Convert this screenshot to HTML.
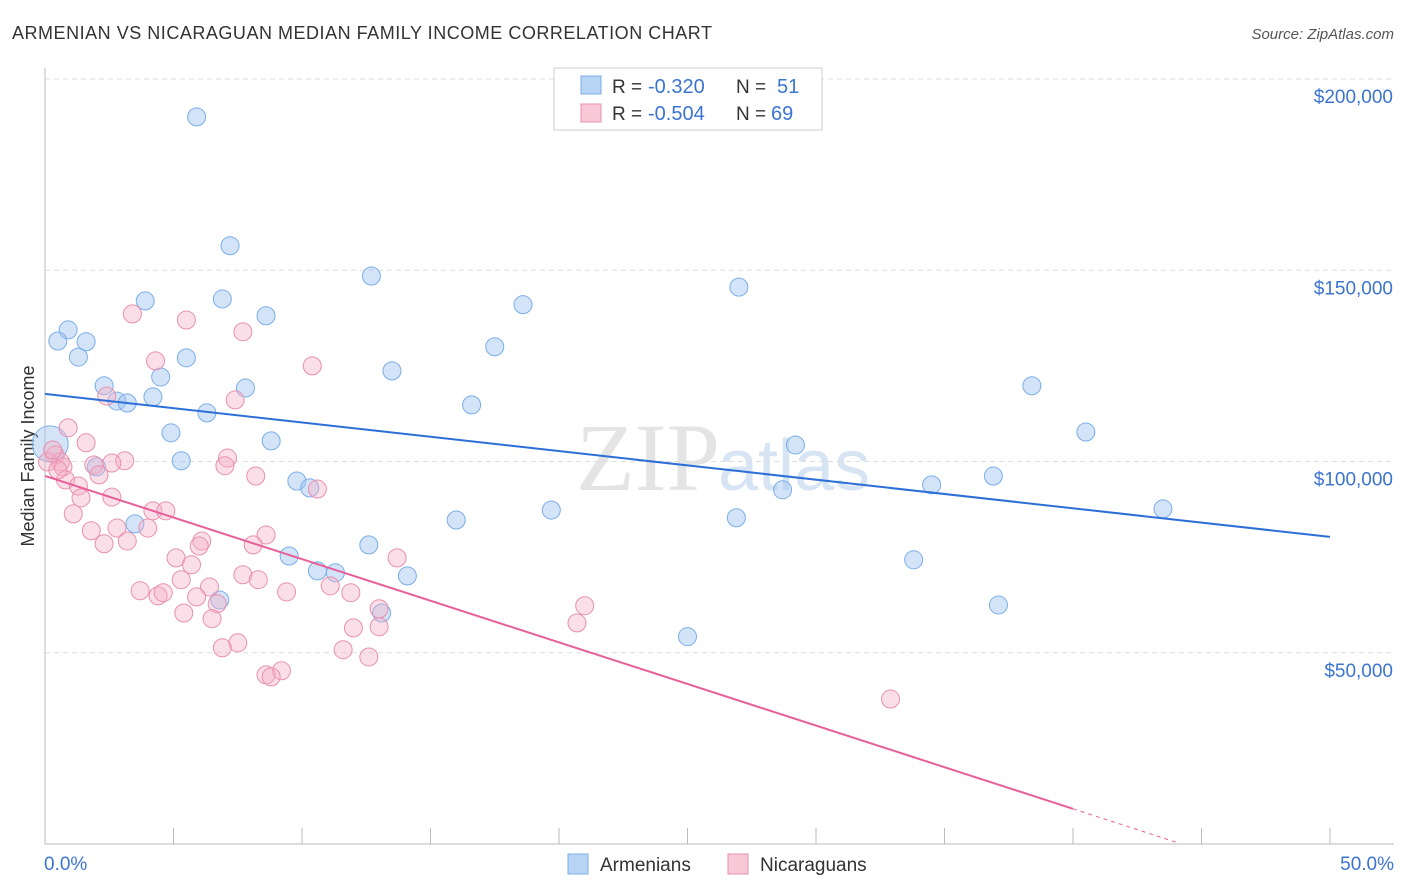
<!DOCTYPE html>
<html><head><meta charset="utf-8"><style>
body{margin:0;background:#fff;font-family:"Liberation Sans",sans-serif;}
svg{display:block}
</style></head><body>
<svg id="chart" width="1406" height="892">
<text x="12" y="39" font-size="18" fill="#333" textLength="700">ARMENIAN VS NICARAGUAN MEDIAN FAMILY INCOME CORRELATION CHART</text>
<text x="1394" y="39" font-size="15" fill="#555" font-style="italic" text-anchor="end">Source: ZipAtlas.com</text>
<text x="720" y="490" font-size="96" fill="#e4e4e4" text-anchor="end" font-family="Liberation Serif, serif">ZIP</text>
<text x="718" y="490" font-size="72" fill="#d6e4f4">atlas</text>
<text transform="translate(34,456) rotate(-90)" font-size="18" fill="#333" text-anchor="middle">Median Family Income</text>
<g id="grid"></g><g id="axes"></g><g id="pts"></g><g id="lines"></g>
<g>
<rect x="554" y="68" width="268" height="62" fill="#fff" stroke="#ccc"/>
<rect x="581" y="76" width="20" height="18" fill="#b8d4f4" stroke="#7aaee8"/>
<text x="612" y="93" font-size="19" fill="#333">R =</text>
<text x="648" y="93" font-size="20" fill="#3b74d1">-0.320</text>
<text x="736" y="93" font-size="19" fill="#333">N =</text>
<text x="777" y="93" font-size="20" fill="#3b74d1">51</text>
<rect x="581" y="104" width="20" height="18" fill="#f8c8d6" stroke="#e890b0"/>
<text x="612" y="120" font-size="19" fill="#333">R =</text>
<text x="648" y="120" font-size="20" fill="#3b74d1">-0.504</text>
<text x="736" y="120" font-size="19" fill="#333">N =</text>
<text x="771" y="120" font-size="20" fill="#3b74d1">69</text>
</g>
<g>
<rect x="568" y="854" width="20" height="20" fill="#b8d4f4" stroke="#7aaee8"/>
<text x="600" y="871" font-size="19" fill="#333">Armenians</text>
<rect x="728" y="854" width="20" height="20" fill="#f8c8d6" stroke="#e890b0"/>
<text x="760" y="871" font-size="19" fill="#333">Nicaraguans</text>
</g>
</svg>
<script>
const yTicks=[50000,100000,150000,200000];
const yTickLabels=["$50,000","$100,000","$150,000","$200,000"];
const xTickLabels=["0.0%","50.0%"];
const armX=[5.9,7.2,12.7,27.0,3.9,6.9,18.6,8.6,0.9,0.5,1.6,17.5,1.3,5.5,4.5,13.5,2.3,7.8,38.4,2.8,3.2,4.2,16.6,6.3,4.9,8.8,29.2,40.5,0.2,5.3,2.0,9.8,10.3,36.9,34.5,28.7,19.7,43.5,16.0,26.9,3.5,12.6,9.5,33.8,10.6,11.3,14.1,6.8,37.1,13.1,25.0];
const armY=[190.1,156.4,148.5,145.6,142.0,142.5,141.0,138.1,134.4,131.5,131.3,130.0,127.3,127.1,122.1,123.7,119.8,119.2,119.8,115.8,115.3,116.9,114.8,112.7,107.5,105.4,104.3,107.7,104.6,100.2,98.6,94.9,93.1,96.2,93.9,92.6,87.3,87.6,84.7,85.3,83.7,78.2,75.3,74.3,71.4,70.9,70.1,63.8,62.5,60.4,54.2];
const nicX=[3.4,5.5,7.7,4.3,10.4,2.4,7.4,0.9,1.6,0.4,0.6,3.1,2.6,7.1,1.9,7.0,0.7,8.2,2.1,0.8,1.3,2.6,1.4,10.6,4.2,4.7,1.1,8.6,4.0,2.8,1.8,6.1,3.2,2.3,8.1,6.0,5.1,13.7,5.7,7.7,5.3,8.3,11.1,3.7,6.4,4.4,4.6,5.9,9.4,11.9,6.7,13.0,5.4,6.5,21.0,20.7,12.0,13.0,7.5,6.9,11.6,12.6,9.2,8.6,8.8,32.9,0.1,0.3,0.5];
const nicY=[138.6,137.0,133.9,126.3,125.0,117.1,116.1,108.8,104.9,101.7,99.9,100.2,99.6,100.9,99.1,98.9,98.6,96.2,96.5,95.2,93.6,90.7,90.5,92.8,87.1,87.1,86.3,80.8,82.6,82.6,81.9,79.2,79.2,78.5,78.2,77.9,74.8,74.8,73.0,70.4,69.1,69.1,67.5,66.2,67.2,64.9,65.7,64.6,65.9,65.7,62.8,61.5,60.4,58.9,62.3,57.8,56.5,56.8,52.6,51.3,50.8,48.9,45.3,44.2,43.7,37.9,99.9,103.0,97.8];
const armTrend=[117669,80293];
const nicTrend=[96236,9200];
const nicSolidEnd=40;const nicDashEnd=44;
const X=p=>45+p/50*1285;
const Y=v=>844-v/200000*765;
const NS="http://www.w3.org/2000/svg";
function mk(t,a,parent){const e=document.createElementNS(NS,t);for(const k in a)e.setAttribute(k,a[k]);document.getElementById(parent).appendChild(e);return e;}
yTicks.forEach((v,i)=>{
 const g=mk('line',{x1:45,x2:1394,y1:Y(v),y2:Y(v),stroke:'#ddd','stroke-dasharray':'5,4'},'grid');
 
 
 const t=mk('text',{x:1393,y:Y(v)+24,'font-size':19,fill:'#3b74d1','text-anchor':'end'},'grid');
 t.textContent=yTickLabels[i];
 
 
});
const ax=mk('line',{x1:45,x2:45,y1:68,y2:844,stroke:'#bbb'},'axes');


const bx=mk('line',{x1:45,x2:1394,y1:844,y2:844,stroke:'#bbb'},'axes');


for(let i=0;i<=10;i++){const t=mk('line',{x1:X(i*5),x2:X(i*5),y1:828,y2:844,stroke:'#bbb'},'axes');
 
 }
[[0,'start',44],[50,'end',1394]].forEach((d,i)=>{const t=mk('text',{x:d[2],y:870,'font-size':19,fill:'#3b74d1','text-anchor':d[1]},'axes');t.textContent=xTickLabels[i];
 
 });
armX.forEach((x,i)=>{const big=(i===28);const c=mk('circle',{cx:X(x),cy:Y(armY[i]*1000),r:big?18:9,fill:'rgba(160,196,240,0.45)',stroke:'#7aaee8','stroke-width':1},'pts');
 
 });
nicX.forEach((x,i)=>{const c=mk('circle',{cx:X(x),cy:Y(nicY[i]*1000),r:9,fill:'rgba(245,175,198,0.4)',stroke:'#e890b0','stroke-width':1},'pts');
 
 });
const nv=p=>nicTrend[0]+(nicTrend[1]-nicTrend[0])*p/nicSolidEnd;
const l1=mk('line',{x1:X(0),y1:Y(armTrend[0]),x2:X(50),y2:Y(armTrend[1]),stroke:'#2c6fd6','stroke-width':2},'lines');


const l2=mk('line',{x1:X(0),y1:Y(nv(0)),x2:X(nicSolidEnd),y2:Y(nv(nicSolidEnd)),stroke:'#e8609a','stroke-width':2},'lines');


const l3=mk('line',{x1:X(nicSolidEnd),y1:Y(nv(nicSolidEnd)),x2:X(nicDashEnd),y2:Y(nv(nicDashEnd)),stroke:'#e8609a','stroke-width':1,'stroke-dasharray':'4,4'},'lines');


</script>
</body></html>
